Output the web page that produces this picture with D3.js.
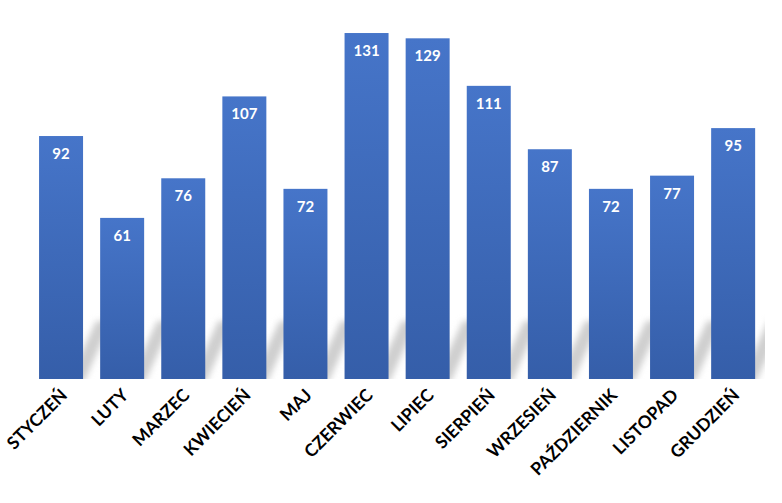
<!DOCTYPE html>
<html>
<head>
<meta charset="utf-8">
<script src="https://cdn.jsdelivr.net/npm/d3@7"></script>
<style>
  body { margin: 0; background: #fff; }
  svg { display: block; }
  .label { font-family: Lato, 'Open Sans', sans-serif; font-weight: bold; }
</style>
</head>
<body>
<script>
const months = ['STYCZEŃ', 'LUTY', 'MARZEC', 'KWIECIEŃ', 'MAJ', 'CZERWIEC',
  'LIPIEC', 'SIERPIEŃ', 'WRZESIEŃ', 'PAŹDZIERNIK', 'LISTOPAD', 'GRUDZIEŃ'];
const values = [92, 61, 76, 107, 72, 131, 129, 111, 87, 72, 77, 95];

const width = 782;
const height = 503;
const base = 379;

const x = d3.scaleBand()
  .domain(months)
  .range([30.5, 763.7])
  .paddingInner(0.28)
  .paddingOuter(0.14);

const y = d3.scaleLinear()
  .domain([0, 140])
  .range([base, base - 140 * 2.641]);

const svg = d3.select('body')
  .append('svg')
  .attr('width', width)
  .attr('height', height);

const defs = svg.append('defs');

const grad = defs.append('linearGradient')
  .attr('id', 'barGrad')
  .attr('x1', 0).attr('y1', 0)
  .attr('x2', 0).attr('y2', 1);
grad.append('stop').attr('offset', '0%').attr('stop-color', '#4675c9');
grad.append('stop').attr('offset', '100%').attr('stop-color', '#355ea9');

defs.append('filter')
  .attr('id', 'blur')
  .attr('x', '-50%').attr('y', '-50%')
  .attr('width', '200%').attr('height', '200%')
  .append('feGaussianBlur')
  .attr('stdDeviation', 3);

defs.append('clipPath')
  .attr('id', 'plotClip')
  .append('rect')
  .attr('x', 0).attr('y', 0)
  .attr('width', 765).attr('height', base);

// perspective shadows behind the bars
const sh = 58;   // shadow height
const ss = 28;   // shadow horizontal shift
const sw = 15;   // visible band width

svg.append('g')
  .attr('clip-path', 'url(#plotClip)')
  .selectAll('polygon')
  .data(months)
  .enter().append('polygon')
  .attr('points', (d) => {
    const x1 = x(d) + x.bandwidth();
    return [
      [x1 - sw, base + 3],
      [x1 + 1, base + 3],
      [x1 + ss, base - sh],
      [x1 - sw + ss, base - sh],
    ].map(p => p.join(',')).join(' ');
  })
  .attr('fill', '#cfcfcf')
  .attr('filter', 'url(#blur)');

svg.selectAll('.bar')
  .data(values)
  .enter().append('rect')
  .attr('class', 'bar')
  .attr('x', (d, i) => x(months[i]))
  .attr('width', x.bandwidth())
  .attr('y', d => y(d))
  .attr('height', d => base - y(d))
  .attr('fill', 'url(#barGrad)');

svg.selectAll('.value')
  .data(values)
  .enter().append('text')
  .attr('class', 'label value')
  .attr('x', (d, i) => x(months[i]) + x.bandwidth() / 2)
  .attr('y', d => y(d) + 23)
  .attr('text-anchor', 'middle')
  .attr('fill', '#fff')
  .style('font-size', '15px')
  .text(d => d);

svg.selectAll('.month')
  .data(months)
  .enter().append('text')
  .attr('class', 'label month')
  .attr('transform', d => `translate(${x(d) + x.bandwidth() / 2 + 3}, 392) rotate(-45)`)
  .attr('text-anchor', 'end')
  .attr('dy', '0.35em')
  .attr('fill', '#000')
  .style('font-size', '17.5px')
  .text(d => d);
</script>
</body>
</html>
